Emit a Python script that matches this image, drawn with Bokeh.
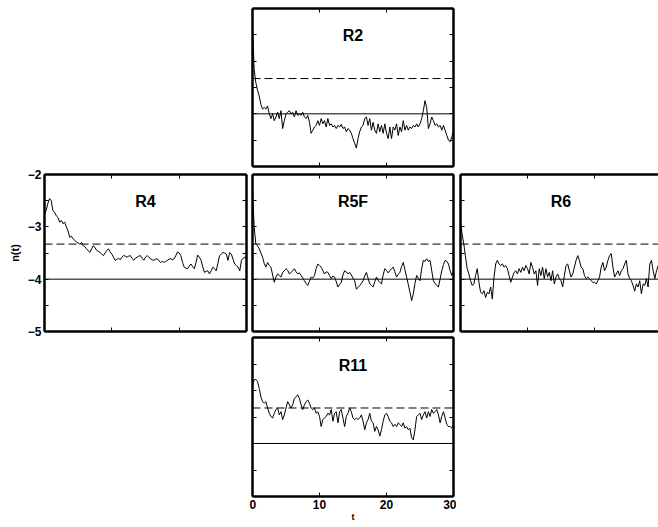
from bokeh.plotting import figure
from bokeh.models import Range1d, LinearAxis, FixedTicker, Span, Spacer
from bokeh.layouts import row, column
from bokeh.core.properties import value
from bokeh.embed import file_html
from bokeh.resources import INLINE

# ---------------- data ----------------
T = [i * 0.25 for i in range(121)]          # time axis t, 0..30

REF_DASHED = -3.33
REF_SOLID = -4.0

R2 = [-2.30, -3.16, -3.41, -3.55, -3.66, -3.82, -3.91, -3.88, -3.91, -3.85,
      -4.00, -4.09, -4.00, -4.13, -4.06, -3.97, -4.09, -3.94, -4.28, -4.13,
      -4.00, -3.97, -3.94, -4.00, -3.97, -4.06, -3.94, -4.03, -4.00, -4.03,
      -3.97, -4.06, -4.09, -4.03, -4.16, -4.37, -4.31, -4.25, -4.22, -4.13,
      -4.22, -4.09, -4.19, -4.13, -4.25, -4.09, -4.22, -4.19, -4.25, -4.22,
      -4.28, -4.22, -4.25, -4.20, -4.28, -4.25, -4.34, -4.28, -4.31, -4.37,
      -4.47, -4.56, -4.65, -4.47, -4.34, -4.25, -4.22, -4.09, -4.06, -4.22,
      -4.09, -4.31, -4.16, -4.31, -4.37, -4.19, -4.34, -4.22, -4.37, -4.19,
      -4.37, -4.47, -4.25, -4.47, -4.25, -4.31, -4.19, -4.41, -4.25, -4.34,
      -4.13, -4.31, -4.22, -4.31, -4.25, -4.28, -4.22, -4.25, -4.19, -4.25,
      -4.19, -4.09, -3.94, -3.75, -3.88, -4.28, -4.19, -4.06, -4.13, -4.22,
      -4.19, -4.25, -4.22, -4.31, -4.22, -4.31, -4.41, -4.50, -4.53, -4.44,
      -4.31]

R4 = [-2.75, -2.69, -2.55, -2.46, -2.50, -2.69, -2.72, -2.79, -2.82, -2.91,
      -2.88, -2.94, -2.91, -3.00, -3.08, -3.20, -3.18, -3.23, -3.26, -3.29,
      -3.31, -3.33, -3.30, -3.36, -3.38, -3.42, -3.46, -3.49, -3.42, -3.36,
      -3.40, -3.45, -3.47, -3.49, -3.52, -3.55, -3.50, -3.45, -3.42, -3.48,
      -3.52, -3.58, -3.64, -3.62, -3.60, -3.63, -3.58, -3.55, -3.56, -3.58,
      -3.56, -3.55, -3.60, -3.64, -3.60, -3.58, -3.56, -3.55, -3.60, -3.64,
      -3.58, -3.55, -3.58, -3.61, -3.63, -3.64, -3.62, -3.61, -3.65, -3.68,
      -3.66, -3.68, -3.66, -3.64, -3.62, -3.61, -3.63, -3.61, -3.55, -3.48,
      -3.50, -3.55, -3.68, -3.77, -3.79, -3.80, -3.75, -3.71, -3.76, -3.80,
      -3.68, -3.54, -3.58, -3.64, -3.76, -3.87, -3.85, -3.84, -3.90, -3.84,
      -3.77, -3.80, -3.84, -3.70, -3.55, -3.52, -3.49, -3.50, -3.52, -3.64,
      -3.49, -3.52, -3.62, -3.71, -3.74, -3.77, -3.84, -3.64, -3.60, -3.58,
      -3.61]

R5F = [-2.30, -3.01, -3.33, -3.36, -3.42, -3.50, -3.58, -3.70, -3.77, -3.68,
       -3.74, -3.77, -3.92, -4.06, -3.96, -3.90, -3.93, -3.96, -3.87, -3.84,
       -3.80, -3.83, -3.90, -3.87, -3.84, -3.80, -3.86, -3.90, -3.88, -3.93,
       -3.98, -4.03, -4.08, -4.12, -4.04, -3.96, -3.98, -3.93, -3.80, -3.71,
       -3.74, -3.77, -3.84, -3.90, -3.86, -3.87, -3.93, -3.99, -3.94, -3.96,
       -4.05, -4.15, -4.10, -4.06, -3.92, -3.84, -3.86, -3.90, -3.87, -3.92,
       -3.98, -4.03, -4.19, -4.16, -4.12, -4.08, -4.03, -3.94, -3.87, -3.98,
       -4.09, -4.12, -4.15, -4.05, -3.96, -4.02, -4.06, -4.09, -3.92, -3.80,
       -3.83, -3.88, -3.84, -3.80, -3.77, -3.86, -3.96, -3.91, -3.87, -3.76,
       -3.68, -3.82, -3.96, -4.10, -4.25, -4.41, -4.28, -4.08, -3.93, -3.98,
       -4.03, -3.80, -3.64, -3.66, -3.61, -3.66, -3.64, -3.84, -4.03, -4.08,
       -4.12, -4.15, -4.00, -3.84, -3.72, -3.64, -3.66, -3.71, -3.84, -3.93,
       -3.85]

R6 = [-2.90, -3.15, -3.33, -3.58, -3.80, -3.90, -4.03, -4.12, -4.09, -3.93,
      -3.80, -4.06, -4.25, -4.28, -4.22, -4.35, -4.25, -4.28, -4.15, -4.38,
      -3.96, -3.71, -3.64, -3.71, -3.74, -3.71, -3.77, -3.74, -3.80, -3.93,
      -4.06, -3.96, -3.87, -3.84, -3.90, -3.80, -3.87, -3.77, -3.84, -3.74,
      -3.80, -3.90, -3.68, -3.77, -3.90, -3.84, -4.12, -3.80, -3.93, -3.77,
      -3.99, -3.80, -3.96, -3.87, -4.03, -3.84, -4.09, -3.96, -3.90, -3.99,
      -4.03, -4.15, -3.93, -3.74, -3.71, -3.84, -3.96, -3.90, -3.77, -3.64,
      -3.55, -3.64, -3.77, -3.80, -3.93, -3.99, -3.96, -3.99, -4.03, -4.06,
      -4.06, -4.09, -4.03, -3.96, -3.77, -3.68, -3.84, -3.77, -3.64, -3.55,
      -3.51, -3.77, -3.96, -3.90, -3.84, -3.93, -3.84, -3.80, -3.71, -3.64,
      -3.90, -3.99, -4.03, -4.12, -4.23, -4.09, -4.15, -4.03, -4.28, -4.09,
      -4.12, -3.99, -4.15, -3.71, -3.64, -3.84, -3.99, -3.84, -3.74, -3.70,
      -3.72]

R11 = [-2.90, -2.80, -2.79, -2.83, -2.96, -3.12, -3.21, -3.24, -3.21, -3.33,
       -3.43, -3.49, -3.52, -3.43, -3.36, -3.33, -3.46, -3.40, -3.55, -3.46,
       -3.33, -3.21, -3.27, -3.33, -3.27, -3.15, -3.12, -3.08, -3.15, -3.27,
       -3.36, -3.27, -3.21, -3.18, -3.24, -3.33, -3.36, -3.33, -3.43, -3.40,
       -3.49, -3.68, -3.55, -3.52, -3.49, -3.43, -3.46, -3.36, -3.58, -3.43,
       -3.40, -3.61, -3.40, -3.36, -3.52, -3.68, -3.49, -3.43, -3.33, -3.40,
       -3.52, -3.55, -3.52, -3.55, -3.52, -3.46, -3.58, -3.74, -3.61, -3.55,
       -3.43, -3.58, -3.61, -3.77, -3.68, -3.74, -3.86, -3.74, -3.58, -3.46,
       -3.43, -3.49, -3.58, -3.61, -3.68, -3.64, -3.68, -3.61, -3.64, -3.68,
       -3.61, -3.71, -3.68, -3.74, -3.71, -3.89, -3.93, -3.74, -3.49, -3.46,
       -3.43, -3.55, -3.46, -3.40, -3.52, -3.40, -3.49, -3.36, -3.43, -3.40,
       -3.36, -3.46, -3.61, -3.49, -3.40, -3.52, -3.64, -3.68, -3.68, -3.71,
       -3.64]

X_TICKS = [0, 10, 20, 30]
Y_TICKS = [-5.0, -4.5, -4.0, -3.5, -3.0, -2.5, -2.0]
Y_LABELS = {-5.0: "\u22125", -4.0: "\u22124", -3.0: "\u22123", -2.0: "\u22122"}
X_LABELS = {0: "0", 10: "10", 20: "20", 30: "30"}

FONT = "Liberation Sans"


def add_axis(p, side, ticks, labels=None, axis_label=None):
    ax = LinearAxis(ticker=FixedTicker(ticks=ticks, minor_ticks=[]))
    ax.axis_line_color = "black"
    ax.axis_line_width = 2.5
    ax.major_tick_in = 4
    ax.major_tick_out = 0
    ax.major_tick_line_color = "black"
    ax.major_tick_line_width = 1
    ax.minor_tick_line_color = None
    if labels is None:
        ax.major_label_overrides = {float(tk): "" for tk in ticks}
        ax.major_label_text_font_size = "0px"
        ax.major_label_standoff = 0
    else:
        ax.major_label_overrides = {float(tk): labels.get(tk, "") for tk in ticks}
        ax.major_label_text_font = FONT
        ax.major_label_text_font_style = "bold"
        ax.major_label_text_font_size = "12px"
        ax.major_label_text_color = "black"
        ax.major_label_standoff = 3
    if axis_label:
        ax.axis_label = axis_label
        ax.axis_label_text_font = FONT
        ax.axis_label_text_font_style = "bold"
        ax.axis_label_text_color = "black"
    p.add_layout(ax, side)
    return ax


def panel(name, series, fw, fh, mb, x_end=30.0, right=True,
          left_labels=False, bottom_labels=False):
    p = figure(frame_width=fw, frame_height=fh,
               x_range=Range1d(0, x_end), y_range=Range1d(-5, -2),
               output_backend="svg", toolbar_location=None,
               x_axis_location=None, y_axis_location=None,
               min_border_left=mb[0], min_border_right=mb[1],
               min_border_top=mb[2], min_border_bottom=mb[3],
               outline_line_color=None,
               background_fill_color="white", border_fill_color="white")
    p.grid.visible = False

    p.add_layout(Span(location=REF_DASHED, dimension="width", line_color="black",
                      line_width=1, line_dash="8 4"))
    p.add_layout(Span(location=REF_SOLID, dimension="width", line_color="black",
                      line_width=1))
    p.line(T, series, line_color="black", line_width=1)
    p.text(x=[15], y=[-2.52], text=[name], text_align="center",
           text_baseline="middle", text_font=value(FONT),
           text_font_style="bold", text_font_size="16px", text_color="black")

    if left_labels:
        ax = add_axis(p, "left", Y_TICKS, Y_LABELS, "n(t)")
        ax.axis_label_text_font_size = "11px"
        ax.axis_label_standoff = 4
    else:
        add_axis(p, "left", Y_TICKS)
    if right:
        add_axis(p, "right", Y_TICKS)
    add_axis(p, "above", X_TICKS)
    if bottom_labels:
        ax = add_axis(p, "below", X_TICKS, X_LABELS, "t")
        ax.axis_label_text_font_size = "9px"
        ax.axis_label_standoff = 0
    else:
        add_axis(p, "below", X_TICKS)
    return p


p2 = panel("R2", R2, 201, 158, (3, 3, 8, 4))
p4 = panel("R4", R4, 202, 157, (44, 3, 14, 14), left_labels=True)
p5 = panel("R5F", R5F, 201, 157, (3, 3, 4, 2))
p6 = panel("R6", R6, 198, 157, (4, 0, 4, 2), x_end=29.55, right=False)
p11 = panel("R11", R11, 201, 159, (3, 3, 4, 31), bottom_labels=True)

layout = row(
    column(Spacer(width=249, height=160), p4),
    column(p2, p5, p11),
    column(Spacer(width=202, height=170), p6),
)

open("out.html", "w").write(file_html(layout, INLINE))
